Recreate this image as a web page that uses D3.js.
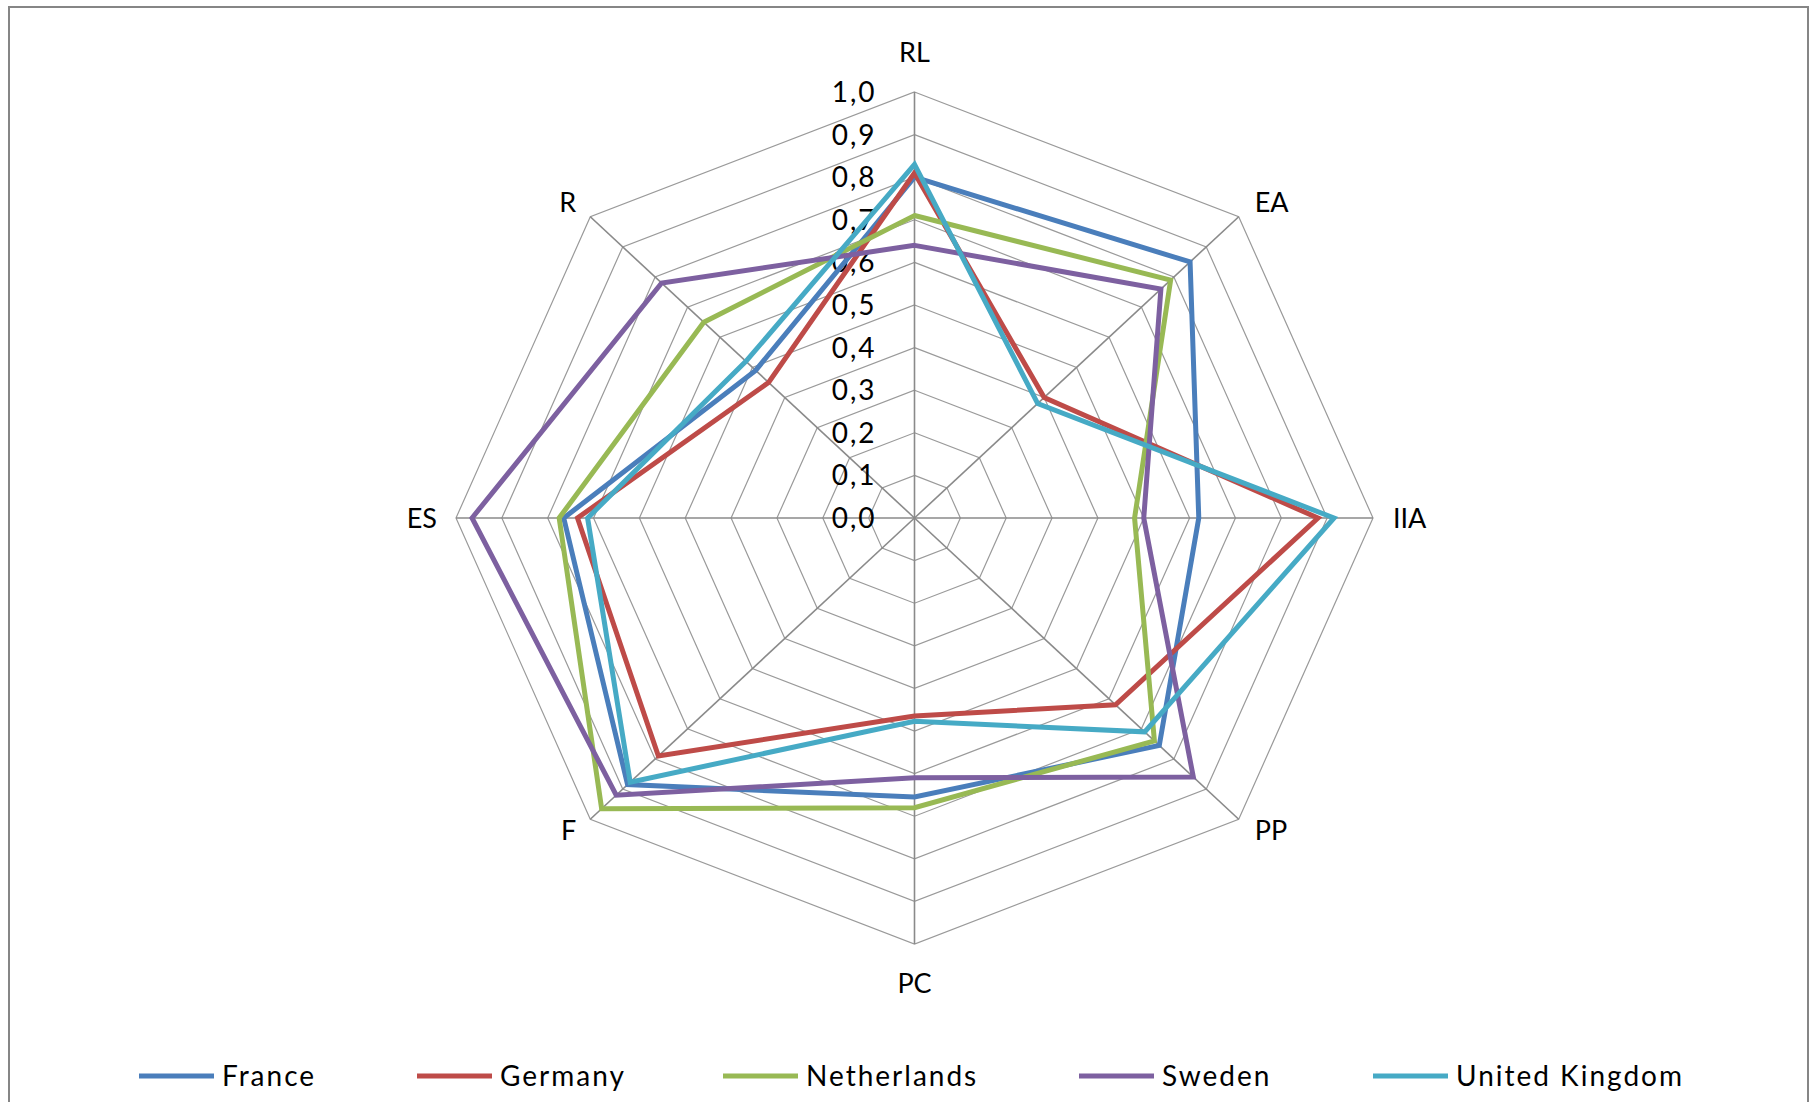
<!DOCTYPE html>
<html>
<head>
<meta charset="utf-8">
<script src="https://cdn.jsdelivr.net/npm/d3@7"></script>
<style>
  html, body { margin: 0; padding: 0; background: #fff; }
  svg { display: block; }
  text { font-family: "Lato", "Open Sans", sans-serif; fill: #000; }
</style>
</head>
<body>
<svg id="chart" width="1815" height="1102"></svg>
<script>
// ---- data ----
const axes = ["RL", "EA", "IIA", "PP", "PC", "F", "ES", "R"];
const seriesNames = ["France", "Germany", "Netherlands", "Sweden", "United Kingdom"];
const france      = [0.80, 0.85, 0.62, 0.755, 0.655, 0.885, 0.765, 0.49];
const germany     = [0.81, 0.40, 0.88, 0.62, 0.465, 0.79, 0.735, 0.45];
const netherlands = [0.71, 0.79, 0.48, 0.74, 0.68, 0.965, 0.775, 0.65];
const sweden      = [0.64, 0.76, 0.50, 0.86, 0.61, 0.92, 0.965, 0.78];
const uk          = [0.83, 0.38, 0.915, 0.71, 0.477, 0.877, 0.713, 0.52];
const seriesValues = [france, germany, netherlands, sweden, uk];
const colors = ["#4a7ebb", "#be4b48", "#98b954", "#7d60a0", "#46aac5"];
const tickValues = [0, 0.1, 0.2, 0.3, 0.4, 0.5, 0.6, 0.7, 0.8, 0.9, 1.0];
const tickLabels = ["0,0", "0,1", "0,2", "0,3", "0,4", "0,5", "0,6", "0,7", "0,8", "0,9", "1,0"];

// ---- layout ----
const cx = 914.5, cy = 518;
const ry = 426, rx = 458.5;
const sx = rx / ry;
const legendX = [139, 417, 723, 1079, 1373];
const legendY = 1076;

const svg = d3.select("#chart");

const r = d3.scaleLinear().domain([0, 1]).range([0, ry]);
const angle = d3.scalePoint().domain(axes).range([0, 2 * Math.PI * (axes.length - 1) / axes.length]);

function pt(axis, v) {
  const a = angle(axis);
  return [cx + r(v) * Math.sin(a) * sx, cy - r(v) * Math.cos(a)];
}

// frame
svg.append("rect")
  .attr("x", 9).attr("y", 7)
  .attr("width", 1799).attr("height", 1120)
  .attr("fill", "none").attr("stroke", "#868686").attr("stroke-width", 2);

// rings
const ringLine = d3.line().curve(d3.curveLinearClosed);
svg.append("g").selectAll("path")
  .data(tickValues.filter(d => d > 0))
  .join("path")
  .attr("d", t => ringLine(axes.map(a => pt(a, t))))
  .attr("fill", "none")
  .attr("stroke", "#9a9a9a")
  .attr("stroke-width", 1.2);

// spokes
svg.append("g").selectAll("line")
  .data(axes)
  .join("line")
  .attr("x1", cx).attr("y1", cy)
  .attr("x2", a => pt(a, 1)[0])
  .attr("y2", a => pt(a, 1)[1])
  .attr("stroke", "#8a8a8a")
  .attr("stroke-width", 1.6);

// tick labels
svg.append("g").selectAll("text")
  .data(tickValues)
  .join("text")
  .attr("x", cx - 38)
  .attr("y", t => cy - r(t))
  .attr("dy", "0.36em")
  .attr("text-anchor", "end")
  .attr("font-size", 28)
  .attr("letter-spacing", 2)
  .text((t, i) => tickLabels[i]);

// axis labels
function labelPos(a) {
  const an = angle(a);
  const s = Math.sin(an), c = Math.cos(an);
  const [vx, vy] = pt(a, 1);
  let x = vx, y = vy, anchor = "middle";
  if (Math.abs(s) < 0.1) {           // top / bottom
    y = vy + (c > 0 ? -40 : 39);
  } else if (Math.abs(c) < 0.1) {    // left / right
    x = vx + (s > 0 ? 20 : -19);
    anchor = s > 0 ? "start" : "end";
  } else {                            // diagonals
    x = vx + (s > 0 ? 16 : -14);
    y = vy + (c > 0 ? -14 : 11);
    anchor = s > 0 ? "start" : "end";
  }
  return { x, y, anchor };
}
svg.append("g").selectAll("text")
  .data(axes)
  .join("text")
  .attr("x", a => labelPos(a).x)
  .attr("y", a => labelPos(a).y)
  .attr("dy", "0.36em")
  .attr("text-anchor", a => labelPos(a).anchor)
  .attr("font-size", 27)
  .text(d => d);

// series lines
const lineGen = d3.line().curve(d3.curveLinearClosed);
svg.append("g").selectAll("path")
  .data(seriesValues)
  .join("path")
  .attr("d", vals => lineGen(axes.map((a, i) => pt(a, vals[i]))))
  .attr("fill", "none")
  .attr("stroke", (d, i) => colors[i])
  .attr("stroke-width", 5)
  .attr("stroke-linejoin", "miter");

// legend
const lg = svg.append("g").selectAll("g")
  .data(seriesNames)
  .join("g")
  .attr("transform", (d, i) => `translate(${legendX[i]},${legendY})`);
lg.append("line")
  .attr("x1", 0).attr("x2", 75).attr("y1", 0).attr("y2", 0)
  .attr("stroke", (d, i) => colors[i])
  .attr("stroke-width", 5);
lg.append("text")
  .attr("x", 83).attr("y", 0)
  .attr("dy", "0.36em")
  .attr("font-size", 28)
  .attr("letter-spacing", 2)
  .text(d => d);
</script>
</body>
</html>
